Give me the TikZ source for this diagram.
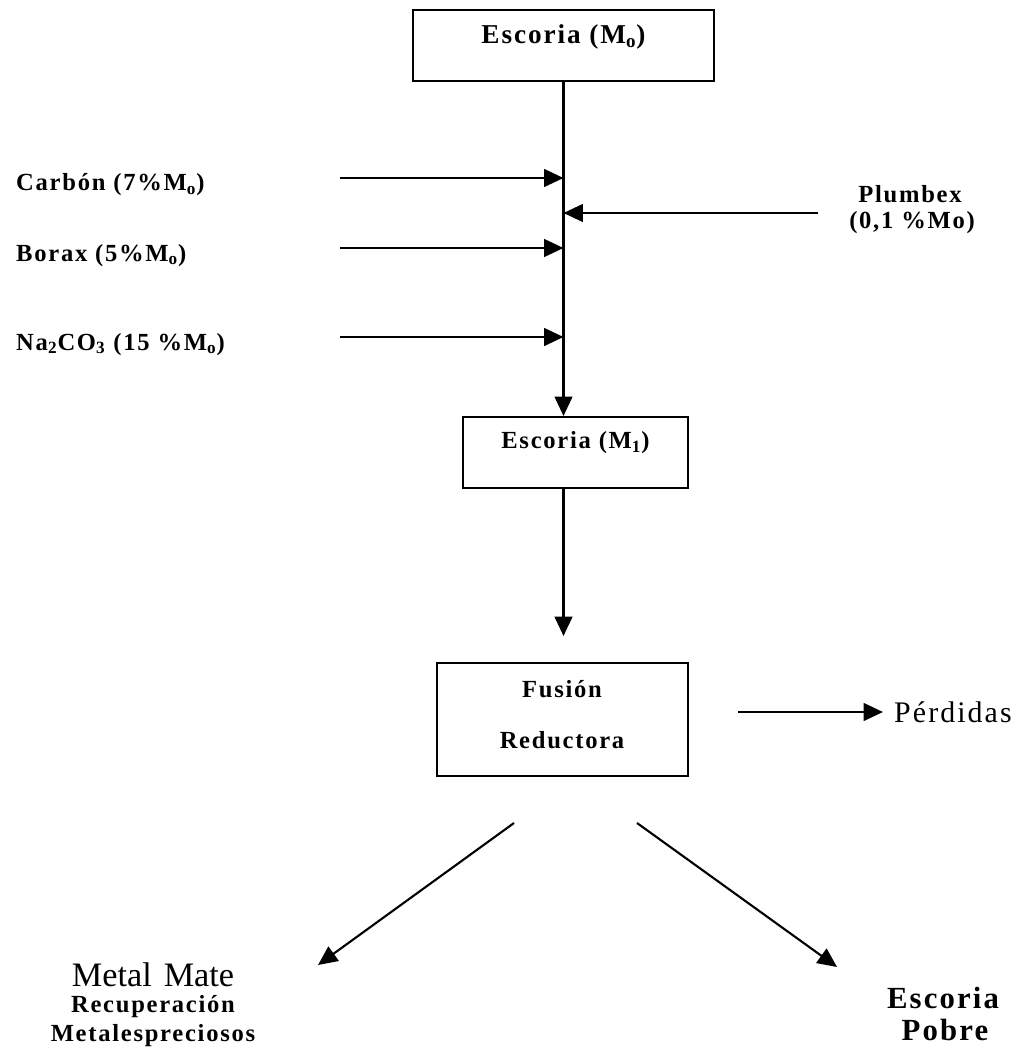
\documentclass[tikz,border=0pt]{standalone}
\usepackage{fontspec}
\setmainfont{Liberation Serif}
\newfontfamily\negra{Liberation Serif}[LetterSpace=7]
\usetikzlibrary{arrows.meta,positioning}

\begin{document}
\begin{tikzpicture}[x=0.02cm,y=-0.02cm,line width=1.4pt,
    caja/.style={draw,line width=1.4pt,inner sep=0pt},
    flecha/.style={-{Triangle[length=11pt,width=10pt]}},
    etiq/.style={font=\negra\bfseries\fontsize{14}{16}\selectfont}]
    \useasboundingbox (0,0) rectangle (1025,1054);

    % Cajas del proceso
    \node[caja,anchor=north,minimum width=6.02cm,text height=0.66cm,text depth=0.76cm,
          font=\negra\bfseries\fontsize{15.5}{18}\selectfont] (m0) at (563.5,9) {Escoria (M\textsubscript{o})};
    \node[caja,anchor=north,minimum width=4.5cm,text height=0.62cm,text depth=0.8cm,
          etiq] (m1) at (575.5,416) {Escoria (M\textsubscript{1})};
    \node[caja,anchor=north,minimum width=5.02cm,minimum height=2.26cm] (fus) at (562.5,662) {};
    \node[etiq,anchor=base] (fus1) at (562,697) {Fusión};
    \node[etiq,anchor=base] (fus2) at (562,748) {Reductora};

    % Aditivos
    \node[etiq,anchor=base west,inner sep=0pt] (carb) at (15,191) {Carbón (7\%M\textsubscript{o})};
    \node[etiq,anchor=base west,inner sep=0pt] (bor) at (15,261) {Borax (5\%M\textsubscript{o})};
    \node[etiq,anchor=base west,inner sep=0pt] (soda) at (15,350) {Na\textsubscript{2}CO\textsubscript{3} (15 \%M\textsubscript{o})};
    \node[etiq,anchor=base] (plb1) at (910,203) {Plumbex};
    \node[etiq,anchor=base] (plb2) at (912,229) {(0,1 \%Mo)};

    \coordinate (c1) at (340,178);
    \coordinate (c2) at (340,248);
    \coordinate (c3) at (340,337);
    \coordinate (c4) at (818,213);

    % Linea principal
    \draw[flecha] (m0.south) -- (m0.south |- m1.north);
    \draw[flecha] (c1) -- (c1 -| m0.south);
    \draw[flecha] (c2) -- (c2 -| m0.south);
    \draw[flecha] (c3) -- (c3 -| m0.south);
    \draw[flecha] (c4) -- (c4 -| m0.south);
    \draw[flecha,shorten >=0.52cm] (m0.south |- m1.south) -- (m0.south |- fus.north);

    % Perdidas
    \node[anchor=base west,inner sep=0pt,font=\negra\fontsize{17}{20}\selectfont] (perd) at (893,722) {Pérdidas};
    \coordinate (p0) at (738,712);
    \draw[flecha,shorten >=0.2cm] (p0) -- (p0 -| perd.west);

    % Productos
    \coordinate (d1) at (514,823);
    \coordinate (d2) at (637,823);
    \coordinate (t1) at (318,965);
    \coordinate (t2) at (837,967);
    \draw[flecha,line width=1.2pt] (d1) -- (t1);
    \draw[flecha,line width=1.2pt] (d2) -- (t2);

    \node[anchor=base,font=\fontsize{19.5}{22}\selectfont] (mate) at (153,986) {Metal\hspace{0.35em}Mate};
    \node[etiq,anchor=base] (recu) at (153,1012) {Recuperación};
    \node[etiq,anchor=base] (prec) at (153,1041) {Metalespreciosos};
    \node[anchor=base,font=\negra\bfseries\fontsize{17.5}{20}\selectfont] (esc) at (943,1008) {Escoria};
    \node[anchor=base,font=\negra\bfseries\fontsize{17.5}{20}\selectfont] (pob) at (945,1040) {Pobre};
\end{tikzpicture}
\end{document}
